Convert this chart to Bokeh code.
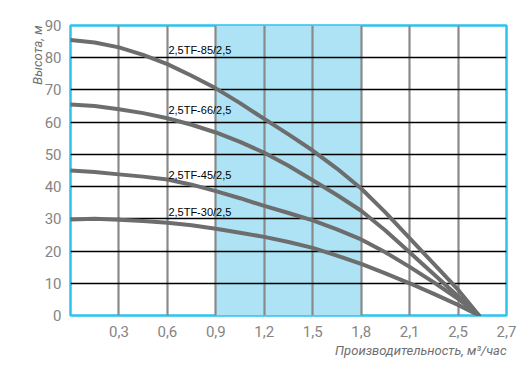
from bokeh.plotting import figure
from bokeh.models import (FixedTicker, CustomJSTickFormatter, Title, ColumnDataSource,
                          Range1d)
from bokeh.core.properties import value
from bokeh.embed import file_html
from bokeh.resources import INLINE

# ---- data ----
flow = [0, 0.15, 0.3, 0.45, 0.6, 0.75, 0.9, 1.05, 1.2, 1.35, 1.5, 1.65, 1.8, 1.95, 2.1, 2.25, 2.4, 2.53]
head_85 = [85.5, 84.7, 83.2, 80.9, 78.0, 74.4, 70.5, 65.9, 61.0, 56.2, 51.2, 45.6, 39.4, 32.0, 24.0, 16.0, 8.0, 0]
head_66 = [65.5, 65.0, 64.0, 62.8, 61.2, 59.2, 56.8, 53.9, 50.5, 46.5, 42.0, 37.4, 32.5, 26.4, 19.6, 12.8, 6.0, 0]
head_45 = [45.0, 44.5, 43.8, 43.1, 42.2, 40.6, 38.6, 36.4, 34.0, 31.8, 29.5, 26.7, 23.6, 19.6, 15.1, 10.3, 5.2, 0]
head_30 = [29.8, 30.0, 29.7, 29.3, 28.8, 28.0, 26.9, 25.7, 24.4, 22.8, 21.0, 18.6, 16.0, 13.1, 10.0, 6.7, 3.3, 0]

series_names = ["2,5TF-85/2,5", "2,5TF-66/2,5", "2,5TF-45/2,5", "2,5TF-30/2,5"]
label_x = [0.6, 0.6, 0.6, 0.6]
label_y = [80.4, 61.8, 41.8, 30.4]

work_zone = [0.9, 1.8]

x_ticks = [0.3, 0.6, 0.9, 1.2, 1.5, 1.8, 2.1, 2.4, 2.7]
x_tick_labels = ["0,3", "0,6", "0,9", "1,2", "1,5", "1,8", "2,1", "2,5", "2,7"]
y_ticks = [0, 10, 20, 30, 40, 50, 60, 70, 80, 90]

x_title = "Производительность, м³/час"
y_title = "Высота, м"

# ---- figure ----
p = figure(width=522, height=370, output_backend="svg", toolbar_location=None,
           x_range=Range1d(0, 2.7), y_range=Range1d(0, 90),
           min_border_left=70, min_border_right=16, min_border_top=25, min_border_bottom=55)

p.background_fill_color = "white"
p.border_fill_color = "white"
p.outline_line_color = "#2ac4ee"
p.outline_line_width = 2.5
p.outline_line_alpha = 1

# shaded working zone (below grid)
p.quad(left=[work_zone[0]], right=[work_zone[1]], bottom=[0], top=[90],
       fill_color="#ade3f5", line_color=None, level="image")

# grids
p.xgrid.ticker = FixedTicker(ticks=x_ticks)
p.ygrid.ticker = FixedTicker(ticks=y_ticks)
p.xgrid.grid_line_color = "#8a8a8a"
p.xgrid.grid_line_width = 2.2
p.ygrid.grid_line_color = "black"
p.ygrid.grid_line_width = 1.4

# axes
for ax in (p.xaxis[0], p.yaxis[0]):
    ax.axis_line_color = None
    ax.major_tick_line_color = None
    ax.minor_tick_line_color = None
    ax.major_label_text_color = "#858585"
    ax.major_label_text_font = "Roboto"
    ax.major_label_text_font_size = "15px"

p.xaxis.ticker = FixedTicker(ticks=x_ticks)
p.xaxis.formatter = CustomJSTickFormatter(args=dict(labels=x_tick_labels),
                                          code="return labels[index];")
p.xaxis.major_label_standoff = 4
p.yaxis.ticker = FixedTicker(ticks=y_ticks)
p.yaxis.major_label_standoff = 3

# curves
curve_color = "#6d6d6d"
for heads in (head_85, head_66, head_45, head_30):
    p.line(flow, heads, line_color=curve_color, line_width=4, line_join="round", line_cap="round")

# series labels
src = ColumnDataSource(dict(x=label_x, y=label_y, t=series_names))
p.text(x="x", y="y", text="t", source=src, text_font=value("Liberation Sans"),
       text_font_size="11px", text_color="black", text_baseline="bottom",
       text_align="left", x_offset=1)

# axis titles
p.add_layout(Title(text=x_title, align="right", text_font="Roboto",
                   text_font_style="italic", text_font_size="13px",
                   text_color="#6f6f6f", standoff=2), "below")
p.add_layout(Title(text=y_title, align="right", text_font="Roboto",
                   text_font_style="italic", text_font_size="13px",
                   text_color="#6f6f6f", standoff=-6), "left")

open("out.html", "w").write(file_html(p, INLINE))
